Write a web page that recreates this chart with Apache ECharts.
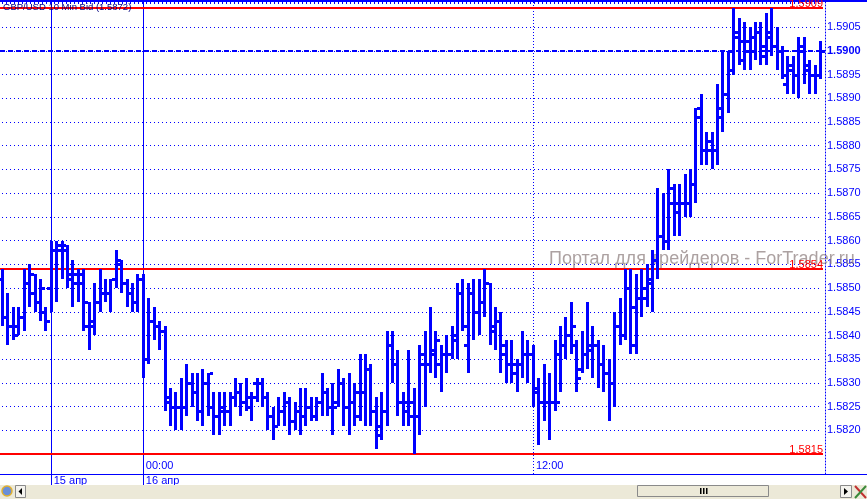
<!DOCTYPE html>
<html><head><meta charset="utf-8">
<script src="https://cdn.jsdelivr.net/npm/echarts@6/dist/echarts.min.js"></script>
<style>html,body{margin:0;padding:0;background:#fff;overflow:hidden}#c{width:867px;height:499px}</style>
</head><body><div id="c"></div>
<script>
// ---- data (10-minute bars, GBP/USD bid) ----
var startDay = 15, startMinute = 19 * 60 + 40, barMinutes = 10, barCount = 152;
var open = [
1.5852,1.5844,1.5842,1.5842,1.5844,1.5851,1.5849,1.5847,1.5845,1.5850,
1.5858,1.5858,1.5859,1.5853,1.5851,1.5851,1.5842,1.5843,1.5847,1.5849,
1.5849,1.5852,1.5855,1.5851,1.5849,1.5847,
1.5852,1.5835,1.5843,1.5842,1.5841,1.5827,1.5825,1.5825,1.5825,1.5830,
1.5828,1.5824,1.5830,1.5825,1.5823,1.5824,1.5824,1.5827,1.5828,1.5826,
1.5825,1.5830,1.5830,1.5827,1.5823,1.5821,1.5824,1.5826,1.5822,1.5824,
1.5823,1.5825,1.5823,1.5826,1.5828,1.5825,1.5826,1.5830,1.5825,1.5826,
1.5823,1.5828,1.5833,1.5824,1.5819,1.5824,1.5838,1.5834,1.5826,1.5826,
1.5826,1.5823,1.5836,1.5834,1.5836,1.5834,1.5836,1.5836,1.5840,1.5849,
1.5838,1.5849,1.5845,1.5847,1.5851,1.5841,1.5843,1.5836,1.5834,1.5832,
1.5834,1.5836,1.5836,1.5828,1.5826,1.5826,1.5826,1.5836,1.5838,1.5840,
1.5838,1.5833,1.5836,1.5837,1.5838,1.5834,1.5832,1.5830,1.5842,1.5840,
1.5850,1.5846,1.5848,1.5848,1.5851,1.5856,1.5861,1.5860,1.5868,1.5868,
1.5868,1.5868,1.5872,1.5888,1.5879,1.5881,1.5879,1.5886,1.5891,1.5900,
1.5904,1.5898,1.5902,1.5903,1.5904,1.5899,1.5904,1.5901,1.5900,1.5893,
1.5897,1.5895,1.5900,1.5897,1.5895,1.5895];
var high = [
1.5854,1.5849,1.5846,1.5846,1.5854,1.5855,1.5853,1.5852,1.5846,1.5860,
1.5860,1.5860,1.5859,1.5856,1.5854,1.5854,1.5847,1.5851,1.5854,1.5852,
1.5852,1.5858,1.5856,1.5852,1.5851,1.5853,
1.5853,1.5848,1.5846,1.5843,1.5842,1.5829,1.5828,1.5831,1.5834,1.5832,
1.5832,1.5833,1.5832,1.5828,1.5828,1.5828,1.5828,1.5831,1.5830,1.5831,
1.5828,1.5831,1.5831,1.5828,1.5825,1.5827,1.5828,1.5827,1.5826,1.5829,
1.5829,1.5827,1.5827,1.5832,1.5829,1.5830,1.5833,1.5831,1.5832,1.5830,
1.5836,1.5836,1.5834,1.5827,1.5828,1.5841,1.5841,1.5837,1.5828,1.5837,
1.5829,1.5838,1.5841,1.5846,1.5841,1.5838,1.5840,1.5842,1.5851,1.5852,
1.5851,1.5852,1.5852,1.5854,1.5851,1.5846,1.5845,1.5839,1.5839,1.5835,
1.5841,1.5839,1.5838,1.5831,1.5834,1.5832,1.5839,1.5842,1.5844,1.5847,
1.5839,1.5841,1.5847,1.5842,1.5839,1.5838,1.5835,1.5845,1.5848,1.5854,
1.5854,1.5853,1.5854,1.5855,1.5858,1.5871,1.5870,1.5875,1.5872,1.5872,
1.5874,1.5875,1.5888,1.5891,1.5883,1.5883,1.5893,1.5900,1.5900,1.5909,
1.5907,1.5906,1.5905,1.5906,1.5906,1.5908,1.5909,1.5905,1.5901,1.5899,
1.5899,1.5903,1.5903,1.5898,1.5897,1.5902];
var low = [
1.5842,1.5838,1.5839,1.5840,1.5841,1.5846,1.5845,1.5843,1.5841,1.5845,
1.5847,1.5852,1.5850,1.5846,1.5847,1.5841,1.5837,1.5840,1.5845,1.5847,
1.5845,1.5850,1.5849,1.5846,1.5845,1.5845,
1.5831,1.5834,1.5839,1.5837,1.5824,1.5821,1.5820,1.5820,1.5823,1.5825,
1.5822,1.5821,1.5823,1.5819,1.5819,1.5821,1.5821,1.5825,1.5823,1.5824,
1.5822,1.5826,1.5825,1.5820,1.5818,1.5821,1.5821,1.5819,1.5820,1.5819,
1.5821,1.5822,1.5822,1.5823,1.5823,1.5819,1.5825,1.5821,1.5819,1.5821,
1.5822,1.5821,1.5821,1.5816,1.5818,1.5821,1.5830,1.5823,1.5821,1.5821,
1.5815,1.5819,1.5825,1.5832,1.5831,1.5828,1.5832,1.5835,1.5835,1.5841,
1.5832,1.5839,1.5840,1.5844,1.5838,1.5837,1.5832,1.5830,1.5830,1.5828,
1.5831,1.5830,1.5825,1.5817,1.5822,1.5818,1.5824,1.5828,1.5835,1.5836,
1.5828,1.5832,1.5833,1.5831,1.5829,1.5828,1.5822,1.5825,1.5838,1.5839,
1.5836,1.5836,1.5844,1.5846,1.5845,1.5852,1.5858,1.5858,1.5861,1.5861,
1.5865,1.5865,1.5868,1.5876,1.5876,1.5875,1.5876,1.5883,1.5887,1.5895,
1.5897,1.5896,1.5896,1.5898,1.5897,1.5897,1.5899,1.5896,1.5894,1.5891,
1.5891,1.5890,1.5893,1.5891,1.5891,1.5894];
var close = [
1.5844,1.5842,1.5840,1.5844,1.5851,1.5853,1.5847,1.5850,1.5843,1.5858,
1.5859,1.5858,1.5852,1.5853,1.5853,1.5847,1.5842,1.5847,1.5849,1.5849,
1.5852,1.5856,1.5851,1.5849,1.5847,1.5852,
1.5835,1.5843,1.5842,1.5841,1.5826,1.5825,1.5825,1.5825,1.5830,1.5828,
1.5824,1.5830,1.5832,1.5823,1.5825,1.5824,1.5827,1.5828,1.5826,1.5827,
1.5827,1.5830,1.5827,1.5823,1.5821,1.5824,1.5826,1.5822,1.5824,1.5823,
1.5825,1.5823,1.5826,1.5828,1.5825,1.5825,1.5830,1.5825,1.5826,1.5828,
1.5828,1.5833,1.5824,1.5821,1.5824,1.5838,1.5834,1.5826,1.5824,1.5823,
1.5823,1.5834,1.5834,1.5837,1.5839,1.5836,1.5836,1.5839,1.5849,1.5842,
1.5849,1.5845,1.5847,1.5851,1.5842,1.5843,1.5838,1.5834,1.5834,1.5834,
1.5836,1.5836,1.5829,1.5826,1.5826,1.5826,1.5826,1.5838,1.5840,1.5842,
1.5831,1.5836,1.5838,1.5838,1.5834,1.5832,1.5830,1.5842,1.5840,1.5850,
1.5838,1.5848,1.5850,1.5852,1.5856,1.5861,1.5860,1.5871,1.5866,1.5868,
1.5868,1.5872,1.5886,1.5879,1.5879,1.5879,1.5888,1.5891,1.5896,1.5903,
1.5902,1.5900,1.5900,1.5904,1.5901,1.5903,1.5901,1.5900,1.5895,1.5896,
1.5895,1.5901,1.5896,1.5895,1.5895,1.5900];
var dayMarkTimes = ['15.04 21:10', '16.04 00:00'];
var dayMarkLabels = ['15 апр', '16 апр'];
var timeMarkTimes = ['16.04 00:00', '16.04 12:00'];
var dottedTimeMarks = ['16.04 12:00'];
var levelLines = [1.5909, 1.5854, 1.5815];
var currentPrice = 1.5900;
var yMin = 1.58108, yMax = 1.59103;
var yLabelMin = 1.5820, yLabelMax = 1.5905;
var titleText = 'GBP/USD 10 Min Bid (1.5872)';
var watermarkText = 'Портал для трейдеров - ForTrader.ru';

// ---- build ----
function pad(n){ return (n < 10 ? '0' : '') + n; }
var categories = [];
for (var i = 0; i < barCount; i++) {
  var m = startMinute + i * barMinutes;
  var d = startDay + Math.floor(m / 1440);
  m = m % 1440;
  categories.push(pad(d) + '.04 ' + pad(Math.floor(m / 60)) + ':' + pad(m % 60));
}
var ohlc = categories.map(function (c, i) { return [i, open[i], high[i], low[i], close[i]]; });
var levelData = levelLines.map(function (v) { return [0, v, 1]; });
levelData.push([0, currentPrice, 0]);

var BLUE = '#0000ff', RED = '#ff0000', FONT = '"Liberation Sans", Arial, sans-serif';

function renderItem(params, api) {
  var idx = api.value(0);
  var pO = api.coord([idx, api.value(1)]);
  var yH = Math.round(api.coord([idx, api.value(2)])[1]);
  var yL = Math.round(api.coord([idx, api.value(3)])[1]);
  var yC = Math.round(api.coord([idx, api.value(4)])[1]);
  var cx = Math.round(pO[0]);
  var st = { fill: BLUE };
  return { type: 'group', children: [
    { type: 'rect', shape: { x: cx - 1, y: yH, width: 3, height: Math.max(2, yL - yH) }, style: st },
    { type: 'rect', shape: { x: cx - 4, y: Math.round(pO[1]) - 1, width: 3, height: 3 }, style: st },
    { type: 'rect', shape: { x: cx + 2, y: yC - 1, width: 3, height: 3 }, style: st }
  ]};
}

function renderLevel(params, api) {
  var v = api.value(1), isLevel = api.value(2) === 1;
  var y = Math.round(api.coord([0, v])[1]);
  var cs = params.coordSys;
  var x0 = cs.x - 2, x1 = cs.x + cs.width + 3;
  if (isLevel) {
    return { type: 'group', children: [
      { type: 'rect', shape: { x: x0, y: y - 1, width: x1 - x0, height: 2 }, style: { fill: RED } },
      { type: 'text', x: x1, y: y + 1, z2: 5, style: { text: v.toFixed(4), fill: RED, font: '11px ' + FONT, align: 'right', verticalAlign: 'bottom' } }
    ]};
  }
  return { type: 'line', shape: { x1: x0, y1: y, x2: x1, y2: y },
    style: { stroke: BLUE, lineWidth: 2, lineDash: [5, 3] } };
}

var chart = echarts.init(document.getElementById('c'), null, { renderer: 'canvas' });
chart.setOption({
  animation: false,
  backgroundColor: '#ffffff',
  grid: { left: 2, right: 47, top: 2, bottom: 25, containLabel: false },
  xAxis: [
    { type: 'category', data: categories, boundaryGap: false, position: 'bottom',
      axisLine: { show: true, lineStyle: { color: BLUE, width: 1 } },
      axisTick: { show: true, length: 11, lineStyle: { color: BLUE, width: 1 },
        interval: function (i, v) { return dayMarkTimes.indexOf(v) >= 0; } },
      axisLabel: { show: true, color: BLUE, fontSize: 11, fontFamily: FONT, align: 'left', verticalAlign: 'middle',
        margin: 7, padding: [0, 0, 0, 3],
        interval: function (i, v) { return dayMarkTimes.indexOf(v) >= 0; },
        formatter: function (v) { var k = dayMarkTimes.indexOf(v); return k >= 0 ? dayMarkLabels[k] : ''; } },
      splitLine: { show: true, lineStyle: { color: BLUE, width: 1, type: 'solid', opacity: 1 },
        interval: function (i, v) { return dayMarkTimes.indexOf(v) >= 0; } }
    },
    { type: 'category', data: categories, boundaryGap: false, position: 'bottom',
      axisLine: { show: false }, axisTick: { show: false },
      axisLabel: { show: true, inside: true, color: BLUE, fontSize: 11, fontFamily: FONT, align: 'left', verticalAlign: 'middle',
        margin: 8, padding: [0, 0, 0, 3],
        interval: function (i, v) { return timeMarkTimes.indexOf(v) >= 0; },
        formatter: function (v) { return v.slice(-5); } },
      splitLine: { show: true, lineStyle: { color: BLUE, width: 1, type: [1, 2] },
        interval: function (i, v) { return dottedTimeMarks.indexOf(v) >= 0; } }
    }
  ],
  yAxis: {
    type: 'value', position: 'right', min: yMin, max: yMax, splitNumber: 20, offset: 5, scale: true,
    axisLine: { show: true, lineStyle: { color: BLUE, width: 1, type: [1, 2] } },
    axisTick: { show: false },
    axisLabel: { show: true, margin: 2, color: BLUE, fontSize: 11, fontFamily: FONT, showMinLabel: false, showMaxLabel: false,
      formatter: function (v) {
        if (v < yLabelMin - 1e-7 || v > yLabelMax + 1e-7) return '';
        var s = v.toFixed(4);
        return Math.abs(v - currentPrice) < 1e-7 ? '{b|' + s + '}' : s; },
      rich: { b: { fontWeight: 'bold', color: BLUE, fontSize: 11, fontFamily: FONT } } },
    splitLine: { show: true, lineStyle: { color: BLUE, width: 1, type: [1, 3] } }
  },
  series: [{
    type: 'custom', name: 'levels', xAxisIndex: 0, yAxisIndex: 0, z: 2, silent: true,
    renderItem: renderLevel, data: levelData, encode: { x: 0, y: 1 }
  }, {
    type: 'custom', name: 'GBP/USD', xAxisIndex: 0, yAxisIndex: 0, z: 3,
    renderItem: renderItem, data: ohlc, encode: { x: 0, y: [1, 2, 3, 4] }
  }],
  graphic: [
    { type: 'text', z: 1, left: 549, top: 250, silent: true,
      style: { text: watermarkText, fill: 'rgba(140,125,125,0.72)', font: '18px ' + FONT } },
    { type: 'rect', z: 1, shape: { x: 0, y: 0, width: 867, height: 2 }, style: { fill: BLUE } },
    { type: 'rect', z: 1, shape: { x: 820, y: 474, width: 47, height: 1 }, style: { fill: BLUE } },
    { type: 'rect', z: 1, shape: { x: 0, y: 474, width: 2, height: 1 }, style: { fill: BLUE } },
    { type: 'text', z: 11, left: 3, top: 2, style: { text: titleText, fill: '#000080', font: '9.5px ' + FONT } },
    { type: 'rect', z: 10, shape: { x: 0, y: 485, width: 867, height: 14 }, style: { fill: '#ece9d8' } },
    { type: 'circle', z: 11, shape: { cx: 7, cy: 491, r: 5 }, style: { fill: '#6a8fd8', stroke: '#e0b030', lineWidth: 1.5 } },
    { type: 'rect', z: 11, shape: { x: 15.5, y: 485.5, width: 10, height: 12 }, style: { fill: '#f4f3ee', stroke: '#8a8a8a' } },
    { type: 'polygon', z: 12, shape: { points: [[22, 488], [22, 495], [18.5, 491.5]] }, style: { fill: '#000' } },
    { type: 'rect', z: 11, shape: { x: 637.5, y: 485.5, width: 131, height: 11 }, style: { fill: '#ece9d8', stroke: '#8a8a8a' } },
    { type: 'rect', z: 12, shape: { x: 700, y: 488, width: 1.5, height: 6 }, style: { fill: '#000' } },
    { type: 'rect', z: 12, shape: { x: 703, y: 488, width: 1.5, height: 6 }, style: { fill: '#000' } },
    { type: 'rect', z: 12, shape: { x: 706, y: 488, width: 1.5, height: 6 }, style: { fill: '#000' } },
    { type: 'rect', z: 11, shape: { x: 840.5, y: 485.5, width: 11, height: 12 }, style: { fill: '#f4f3ee', stroke: '#8a8a8a' } },
    { type: 'polygon', z: 12, shape: { points: [[844, 488], [844, 495], [848, 491.5]] }, style: { fill: '#000' } },
    { type: 'line', z: 12, shape: { x1: 855, y1: 486, x2: 866, y2: 498 }, style: { stroke: '#c03030', lineWidth: 2 } },
    { type: 'line', z: 12, shape: { x1: 866, y1: 486, x2: 855, y2: 498 }, style: { stroke: '#3a8a3a', lineWidth: 2 } }
  ]
});
</script>
</body></html>
